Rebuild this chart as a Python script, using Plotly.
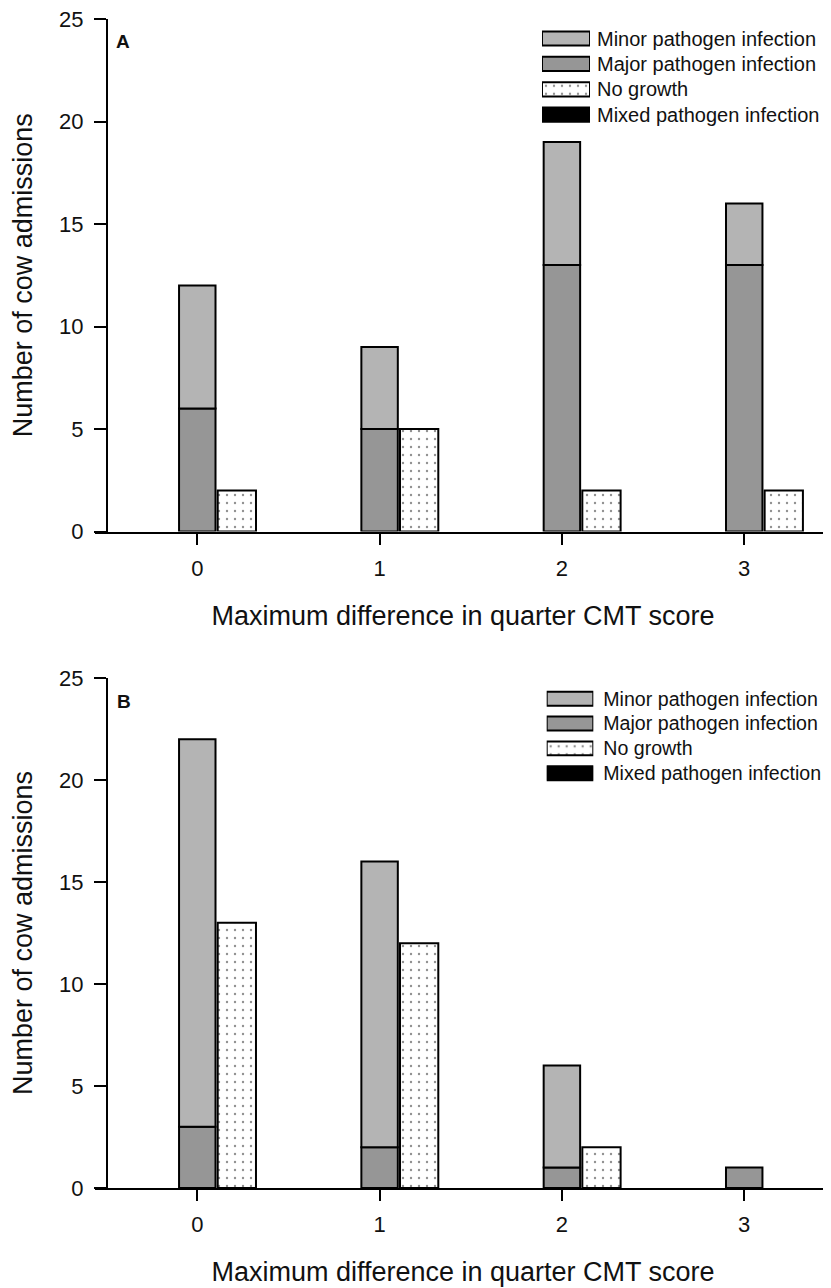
import plotly.graph_objects as go

# ---------------- data ----------------
categories = [0, 1, 2, 3]
series_names = ["Minor pathogen infection", "Major pathogen infection",
                "No growth", "Mixed pathogen infection"]

a_minor = [6, 4, 6, 3]
a_major = [6, 5, 13, 13]
a_nogrowth = [2, 5, 2, 2]
a_mixed = [0, 0, 0, 0]

b_minor = [19, 14, 5, 0]
b_major = [3, 2, 1, 1]
b_nogrowth = [13, 12, 2, 0]
b_mixed = [0, 0, 0, 0]

x_title = "Maximum difference in quarter CMT score"
y_title = "Number of cow admissions"

# ---------------- styles ----------------
FONT = "Liberation Sans, Arial, Helvetica, sans-serif"
TXT = "#111111"
C_MINOR = "#b4b4b4"
C_MAJOR = "#969696"
C_MIXED = "#000000"
DOT = dict(shape=".", fgcolor="#222222", bgcolor="#ffffff", size=8, solidity=0.07)

fills = {
    "Minor pathogen infection": dict(color=C_MINOR),
    "Major pathogen infection": dict(color=C_MAJOR),
    "No growth": dict(color="#ffffff", pattern=DOT),
    "Mixed pathogen infection": dict(color=C_MIXED),
}

def marker_for(name, values=None):
    m = dict(fills[name])
    if values is None:
        m["line"] = dict(color="#000000", width=2)
    else:
        # no outline on empty (zero-height) bars
        m["line"] = dict(color="#000000", width=[2 if v else 0 for v in values])
    return m

W_STACK, OFF_STACK = 0.2, -0.1
W_NG, OFF_NG = 0.21, 0.112
W_MIX, OFF_MIX = 0.2, -0.32

fig = go.Figure()

def add_panel(xa, ya, minor, major, nogrowth, mixed):
    fig.add_trace(go.Bar(x=categories, y=major, name=series_names[1],
                         marker=marker_for(series_names[1], major), width=W_STACK, offset=OFF_STACK,
                         xaxis=xa, yaxis=ya, showlegend=False))
    fig.add_trace(go.Bar(x=categories, y=minor, base=major, name=series_names[0],
                         marker=marker_for(series_names[0], minor), width=W_STACK, offset=OFF_STACK,
                         xaxis=xa, yaxis=ya, showlegend=False))
    fig.add_trace(go.Bar(x=categories, y=nogrowth, name=series_names[2],
                         marker=marker_for(series_names[2], nogrowth), width=W_NG, offset=OFF_NG,
                         xaxis=xa, yaxis=ya, showlegend=False))
    fig.add_trace(go.Bar(x=categories, y=mixed, name=series_names[3],
                         marker=marker_for(series_names[3], mixed), width=W_MIX, offset=OFF_MIX,
                         xaxis=xa, yaxis=ya, showlegend=False))

add_panel("x", "y", a_minor, a_major, a_nogrowth, a_mixed)
add_panel("x2", "y2", b_minor, b_major, b_nogrowth, b_mixed)

# custom legends (wide swatches) drawn on small helper axes
def add_legend(xa, ya):
    for nm in series_names:
        fig.add_trace(go.Bar(y=[nm], x=[1], orientation="h", width=0.56,
                             marker=marker_for(nm), xaxis=xa, yaxis=ya,
                             showlegend=False, cliponaxis=False, hoverinfo="skip"))

add_legend("x3", "y3")
add_legend("x4", "y4")

# ---------------- layout ----------------
PAGE_OFF = 8  # default page body margin
FIG_W, FIG_H = 831 - PAGE_OFF, 1288 - PAGE_OFF
M_L, M_R, M_T = 87, 0, 11.3
M_B = FIG_H - (1188.3 - PAGE_OFF)
PW = FIG_W - M_L - M_R
PH = FIG_H - M_T - M_B

def px_x(p):
    return (p - PAGE_OFF - M_L) / PW

def px_y(p):
    return (FIG_H - M_B - (p - PAGE_OFF)) / PH

X_RANGE = [-0.561, 3.476]
YAX_POS = px_x(107)

common_x = dict(range=X_RANGE, tickvals=categories, showline=True, linecolor="#000",
                linewidth=2, ticks="outside", ticklen=11, tickwidth=2, tickcolor="#000",
                showgrid=False, zeroline=False, tickfont=dict(size=22, color=TXT, family=FONT),
                ticklabelstandoff=5, ticklabeloverflow="allow",
                title=dict(text=x_title, font=dict(size=27, color=TXT, family=FONT), standoff=26),
                fixedrange=True)
common_y = dict(range=[0, 25], dtick=5, showline=True, linecolor="#000", linewidth=2,
                ticks="outside", ticklen=12, tickwidth=2, tickcolor="#000", showgrid=False,
                zeroline=False, anchor="free", position=YAX_POS,
                tickfont=dict(size=22, color=TXT, family=FONT), ticklabelstandoff=6,
                ticklabeloverflow="allow",
                title=dict(text=y_title, font=dict(size=27, color=TXT, family=FONT), standoff=19),
                fixedrange=True)

legend_y = dict(categoryorder="array", categoryarray=series_names, autorange="reversed",
                side="right", showline=False, ticks="", showgrid=False, zeroline=False,
                ticklabeloverflow="allow", fixedrange=True)
legend_x = dict(range=[0, 1], visible=False, fixedrange=True)

fig.update_layout(
    width=FIG_W, height=FIG_H,
    margin=dict(l=M_L, r=M_R, t=M_T, b=M_B, autoexpand=False),
    paper_bgcolor="#ffffff", plot_bgcolor="rgba(0,0,0,0)",
    font=dict(family=FONT, color=TXT),
    barmode="overlay", showlegend=False,
    xaxis=dict(common_x, domain=[0, 1], anchor="y"),
    yaxis=dict(common_y, domain=[px_y(531.8), 1]),
    xaxis2=dict(common_x, domain=[0, 1], anchor="y2"),
    yaxis2=dict(common_y, domain=[0, px_y(678.3)]),
    xaxis3=dict(legend_x, domain=[px_x(542), px_x(590)], anchor="y3"),
    yaxis3=dict(legend_y, domain=[px_y(127.7), px_y(26.1)], anchor="x3", ticklabelstandoff=6,
                tickfont=dict(size=20, color=TXT, family=FONT)),
    xaxis4=dict(legend_x, domain=[px_x(546.7), px_x(593.3)], anchor="y4"),
    yaxis4=dict(legend_y, domain=[px_y(785.9), px_y(686.6)], anchor="x4", ticklabelstandoff=9,
                tickfont=dict(size=19.6, color=TXT, family=FONT)),
    annotations=[
        dict(text="<b>A</b>", x=px_x(123), y=px_y(42), xref="paper", yref="paper",
             xanchor="center", yanchor="middle", showarrow=False,
             font=dict(size=19, color=TXT, family=FONT)),
        dict(text="<b>B</b>", x=px_x(124), y=px_y(702), xref="paper", yref="paper",
             xanchor="center", yanchor="middle", showarrow=False,
             font=dict(size=19, color=TXT, family=FONT)),
    ],
)

fig.write_html("out.html")
